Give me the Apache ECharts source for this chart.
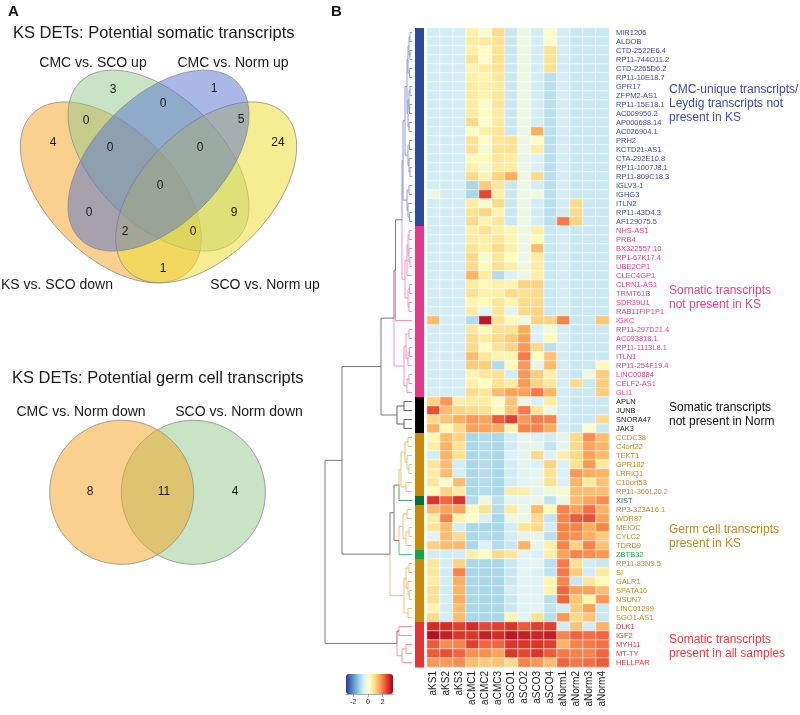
<!DOCTYPE html>
<html>
<head>
<meta charset="utf-8">
<script src="https://cdn.jsdelivr.net/npm/echarts@6/dist/echarts.min.js"></script>
<style>
  html, body { margin: 0; padding: 0; background: #fff; }
  #chart { width: 800px; height: 715px; }
</style>
</head>
<body>
<div id="chart"></div>
<script>
// ---- data ----
const samples = ['aKS1', 'aKS2', 'aKS3', 'aCMC1', 'aCMC2', 'aCMC3', 'aSCO1', 'aSCO2', 'aSCO3', 'aSCO4', 'aNorm1', 'aNorm2', 'aNorm3', 'aNorm4'];

const genes = ['MIR1206', 'ALDOB', 'CTD-2522E6.4', 'RP11-744O11.2', 'CTD-2265D6.2', 'RP11-10E18.7', 'GPR17', 'ZFPM2-AS1', 'RP11-15E18.1', 'AC009950.2', 'AP000688.14', 'AC026904.1', 'PRH2', 'KCTD21-AS1', 'CTA-292E10.8', 'RP11-1007J8.1', 'RP11-809C18.3', 'IGLV3-1', 'IGHG3', 'ITLN2', 'RP11-43D4.3', 'AF129075.5',
  'NHS-AS1', 'PRB4', 'BX322557.10', 'RP1-67K17.4', 'UBE2CP1', 'CLEC4GP1', 'CLRN1-AS1', 'TRMT61B', 'SDR39U1', 'RAB11FIP1P1', 'IGKC', 'RP11-297D21.4', 'AC093818.1', 'RP11-1113L8.1', 'ITLN1', 'RP11-254F19.4', 'LINC00884', 'CELF2-AS1', 'GLI1',
  'APLN', 'JUNB', 'SNORA47', 'JAK3',
  'CCDC38', 'C4orf22', 'TEKT1', 'GPR182', 'LRRIQ1', 'C10orf53', 'RP11-366L20.2', 'XIST', 'RP3-323A16.1', 'WDR87', 'MEIOC', 'CYLC2', 'TDRD9', 'ZBTB32', 'RP11-83N9.5', 'SI', 'GALR1', 'SPATA16', 'NSUN7', 'LINC01299', 'SGO1-AS1',
  'DLK1', 'IGF2', 'MYH11', 'MT-TY', 'HELLPAR'];

// cluster of each gene (C CMC-unique, S somatic not in KS, N not in Norm, G germ cell, X XIST, Z ZBTB32, A all samples)
const geneGroup = 'CCCCCCCCCCCCCCCCCCCCCCSSSSSSSSSSSSSSSSSSSNNNNGGGGGGGXGGGGGZGGGGGGGAAAAA'.split('');

// row z-scores, columns in the order of samples
const expr = [
  [-0.6, -0.6, -0.6, 0.5, 0.0, 0.9, -0.7, -0.2, -0.6, 0.1, -0.6, -0.7, -0.7, -0.7],
  [-0.6, -0.6, -0.6, 0.6, 0.6, 0.8, -0.7, -0.2, -0.6, 0.1, -0.6, -0.7, -0.7, -0.7],
  [-0.6, -0.6, -0.6, 0.5, 0.2, 0.8, -0.7, -0.2, -0.6, 0.8, -0.6, -0.7, -0.7, -0.7],
  [-0.6, -0.6, -0.6, 0.8, 0.1, 0.8, -0.7, -0.2, -0.6, 0.8, -0.6, -0.7, -0.7, -0.7],
  [-0.6, -0.6, -0.6, 0.4, 0.6, 0.8, -0.7, -0.2, -0.6, 0.8, -0.6, -0.7, -0.7, -0.7],
  [-0.6, -0.6, -0.6, 0.5, 0.4, 0.7, -0.7, -0.2, -0.6, -0.9, -0.6, -0.7, -0.7, -0.7],
  [-0.6, -0.6, -0.6, 0.6, 0.5, 0.6, -0.7, -0.2, -0.6, -0.9, -0.6, -0.7, -0.7, -0.7],
  [-0.6, -0.6, -0.6, 0.6, 0.4, 0.7, -0.7, -0.2, -0.6, -0.9, -0.6, -0.7, -0.7, -0.7],
  [-0.6, -0.6, -0.6, 0.6, 0.1, 0.7, -0.7, -0.2, -0.6, -0.9, -0.6, -0.7, -0.7, -0.7],
  [-0.6, -0.6, -0.6, 0.6, 0.2, 0.6, -0.7, -0.2, -0.6, -0.9, -0.6, -0.7, -0.7, -0.7],
  [-0.6, -0.6, -0.6, 0.9, 0.1, 0.6, -0.7, -0.2, -0.6, -0.9, -0.6, -0.7, -0.7, -0.7],
  [-0.6, -0.6, -0.6, 0.1, 0.5, 0.7, -0.7, -0.2, 1.5, -0.9, -0.6, -0.7, -0.7, -0.7],
  [-0.6, -0.6, -0.6, 0.8, 0.1, 0.7, 0.8, -0.2, 0.1, -0.9, -0.6, -0.7, -0.7, -0.7],
  [-0.6, -0.6, -0.6, 0.8, 0.0, 0.8, 0.8, -0.2, 0.6, -0.9, -0.6, -0.7, -0.7, -0.7],
  [-0.6, -0.6, -0.6, 0.3, 0.3, 0.7, 0.6, -0.3, -0.5, -0.9, -0.6, -0.7, -0.7, -0.7],
  [-0.6, -0.6, -0.6, 0.5, 0.0, 0.6, 0.6, -0.2, -0.5, -0.9, -0.6, -0.7, -0.7, -0.7],
  [-0.6, -0.6, -0.6, 0.9, 0.4, 1.0, 1.5, -0.2, 0.9, -0.9, -0.6, -0.7, -0.7, -0.7],
  [-0.6, -0.6, -0.6, -1.1, 1.1, 0.7, -0.7, -0.2, -0.6, -0.9, -0.6, -0.7, -0.7, -0.7],
  [-0.2, -0.6, -0.6, -1.1, 2.5, 0.5, -0.7, -0.2, -0.1, -0.9, -0.6, -0.7, -0.7, -0.7],
  [-0.6, -0.6, -0.6, 0.6, 0.0, 0.9, -0.7, -0.2, -0.6, -0.9, -0.6, 0.9, -0.7, -0.7],
  [-0.6, -0.6, -0.6, 0.8, 1.0, 0.4, -0.7, -0.2, -0.6, -0.9, -0.6, 0.9, -0.7, -0.7],
  [-0.6, -0.6, -0.6, 0.9, 0.4, 0.7, -0.7, -0.2, -0.6, -0.9, 2.0, 1.0, -0.7, -0.7],
  [-0.6, -0.6, -0.6, 0.5, 0.8, 0.5, 0.4, -0.2, 0.5, -0.7, -0.6, -0.7, -0.7, -0.7],
  [-0.6, -0.6, -0.6, 0.6, 0.5, 0.7, 0.4, -0.2, 0.3, -0.7, -0.6, -0.7, -0.7, -0.7],
  [-0.6, -0.6, -0.6, 0.8, 0.5, 0.9, 0.5, -0.2, 1.3, -0.7, -0.6, -0.7, -0.7, -0.7],
  [-0.6, -0.6, -0.6, 0.9, 0.0, 0.7, 0.2, -0.2, 0.6, -0.7, -0.6, -0.7, -0.7, -0.7],
  [-0.6, -0.6, -0.6, 0.9, 0.3, 0.8, 0.5, -0.2, 0.6, -0.7, -0.6, -0.7, -0.7, -0.7],
  [-0.6, -0.6, -0.6, 1.4, 0.6, -1.0, -0.5, -0.2, 0.5, -0.7, -0.6, -0.7, -0.7, -0.7],
  [-0.6, -0.6, -0.6, 0.6, 0.3, 0.5, 0.4, 1.0, 1.0, -0.7, -0.6, -0.7, -0.7, -0.7],
  [-0.6, -0.6, -0.6, 0.8, 0.5, 0.5, 0.9, 0.8, 0.9, -0.7, -0.6, -0.7, -0.7, -0.7],
  [-0.6, -0.6, -0.6, 0.4, 0.3, 0.7, 0.4, 0.9, 0.9, -0.7, -0.6, -0.7, -0.7, -0.7],
  [-0.6, -0.6, -0.6, 0.6, -0.4, 0.7, -0.4, 0.9, 1.0, -0.7, -0.6, -0.7, -0.7, -0.7],
  [1.3, -0.6, -0.6, -1.0, 3.1, 0.8, 0.3, -0.2, 1.0, 1.0, 1.9, -0.7, -0.7, 1.2],
  [-0.6, -0.6, -0.6, 0.7, 0.3, 0.8, 0.8, 1.5, -0.5, -0.1, -0.6, -0.7, -0.7, -0.7],
  [-0.6, -0.6, -0.6, 0.9, 0.6, 0.9, 1.1, 1.6, -0.5, 0.3, -0.6, -0.7, -0.7, -0.7],
  [-0.6, -0.6, -0.6, 0.9, 0.2, 0.8, 1.0, 1.7, 0.9, -0.9, -0.6, -0.7, -0.7, -0.7],
  [-0.6, -0.6, -0.6, 1.3, 0.7, 0.4, 0.4, 2.0, 0.2, 1.2, -0.6, -0.7, -0.7, -0.7],
  [-0.6, -0.6, -0.6, 1.1, 1.1, -1.0, 0.3, 1.7, -0.3, 1.3, -0.6, -0.7, -0.7, 0.3],
  [-0.6, -0.6, -0.6, 0.4, 0.7, 0.8, -0.6, 1.7, 1.1, 0.5, -0.6, -0.7, -0.1, 1.1],
  [-0.6, -0.6, -0.6, 0.5, 0.2, 0.8, 0.6, 1.7, 1.0, 0.7, -0.6, 0.9, -0.7, 1.1],
  [-0.6, -0.6, -0.6, 0.9, 0.7, 1.3, 1.6, 1.6, 2.0, 1.4, -0.6, -0.7, -0.7, 1.1],
  [1.0, 1.7, 0.5, 0.6, 0.6, 0.1, 1.2, -0.2, -0.5, 0.6, -0.6, -0.7, -0.7, -0.7],
  [2.4, 1.3, 1.0, 0.9, 0.8, 0.3, 1.2, 2.0, 0.7, -0.2, -0.6, -0.7, -0.7, -0.7],
  [0.9, 1.2, 1.5, 1.7, 1.6, 2.3, 2.6, 1.7, 2.0, 1.9, -0.6, -0.7, -0.7, 0.9],
  [1.4, 0.3, 0.9, 1.6, 1.6, 1.5, 0.4, 1.9, 1.9, 1.5, -0.6, -0.7, 0.1, -0.7],
  [0.4, 1.3, 1.0, -1.1, -1.0, -1.1, -0.6, -0.3, -0.5, -0.6, -0.3, 0.9, 1.8, 1.3],
  [0.5, 1.4, 0.8, -1.1, -1.0, -1.1, -0.6, -0.3, -0.3, -0.8, -0.3, 0.9, 1.6, 1.4],
  [-0.6, 1.4, 0.8, -1.1, -1.0, -1.1, -0.5, -0.3, 0.9, -0.5, 0.5, 0.9, 1.6, 1.3],
  [0.7, 1.3, -0.6, -1.1, -1.0, -1.1, -0.6, -0.3, -0.5, 1.0, -0.5, 0.8, 1.7, 0.6],
  [0.6, 1.3, -0.6, -1.1, -1.0, -1.1, -0.6, -0.4, -0.3, 0.8, -0.5, 1.7, 1.5, 1.4],
  [0.7, 0.0, 1.3, -1.1, -1.0, -1.1, -0.6, -0.4, -0.3, 0.8, -0.5, 1.4, 0.6, 1.2],
  [0.3, 1.0, 0.6, -1.1, -1.0, -1.1, 0.6, 0.5, -0.4, -0.1, 0.0, 1.3, 1.3, 1.3],
  [2.7, 2.2, 2.7, -1.0, -0.2, -0.9, -0.4, -0.3, -0.2, -0.8, -0.2, 1.3, 1.6, 1.8],
  [1.3, 1.6, 1.6, 0.3, 0.8, -1.0, 0.6, -0.2, 1.3, 0.3, 1.9, 1.6, 2.1, 1.4],
  [0.6, 1.9, 0.4, 0.1, -0.5, -1.1, -0.2, -0.2, 0.9, -0.8, 1.9, 2.3, 2.4, 1.6],
  [0.7, 1.3, -0.6, -1.1, -1.1, -1.1, -0.6, 0.7, 0.9, -0.6, 1.9, 1.9, 1.5, 1.9],
  [-0.4, 1.3, 0.9, -1.1, -1.0, -1.1, -0.6, -0.3, -0.3, -0.9, 1.9, 1.8, 1.5, 1.1],
  [1.0, 1.3, 1.3, -1.1, -0.5, -1.0, -0.7, 1.4, -0.3, 0.5, 1.9, 1.0, 1.9, 1.2],
  [-0.6, -0.6, -0.6, 0.5, 0.2, 0.9, 0.7, -0.4, -0.5, 0.5, 1.6, 1.9, 1.8, 1.7],
  [0.7, -0.6, 1.0, -1.1, -1.1, -1.1, -0.7, -0.4, -0.3, -0.9, 2.0, 0.8, -0.6, -0.7],
  [0.7, -0.6, 1.9, -1.1, -1.1, -1.1, -0.7, -0.4, -0.5, -0.8, 2.0, 1.1, -0.6, 0.6],
  [0.6, -0.6, 1.5, -1.1, -1.1, -1.1, -0.7, -0.4, -0.4, 0.4, 1.9, -0.7, 0.7, 0.3],
  [0.8, -0.6, 1.4, -1.1, -1.1, -1.1, -0.6, -0.4, -0.4, 0.4, 2.2, 1.6, 1.6, 1.3],
  [0.8, -0.6, 1.5, -1.1, -1.1, -1.1, -0.7, -0.4, -0.4, -0.9, 2.2, 1.2, 0.4, 1.7],
  [0.4, -0.6, 1.3, -1.1, -1.1, -1.1, -0.7, -0.4, -0.4, -0.8, -0.6, 1.1, 1.6, -0.7],
  [0.9, -0.6, 1.3, -1.1, -1.1, -1.1, 0.4, -0.4, 0.8, -0.9, 1.7, 0.9, 1.2, -0.7],
  [2.8, 2.8, 2.6, 2.8, 2.5, 2.6, 2.7, 2.3, 2.6, 2.6, -0.6, 1.2, -0.6, 1.4],
  [3.2, 3.0, 2.7, 2.7, 3.0, 2.8, 3.1, 3.0, 2.9, 3.0, 1.9, 2.2, 2.1, 2.2],
  [2.3, 1.8, 1.9, 2.6, 2.2, 2.2, 2.7, 2.7, 2.7, 2.6, 1.4, 1.9, 2.0, 2.1],
  [2.3, 2.4, 2.2, 1.8, 1.8, 1.6, 2.7, 2.5, 2.7, 2.3, 2.0, 1.9, 1.9, 2.2],
  [1.7, 1.7, 1.8, 1.3, 1.1, 1.2, 0.9, 1.9, 1.7, 1.3, 2.2, 2.0, 2.1, 2.3]
];

// row dendrogram: [merge height, left, right]; leaves are row indices
const dendro =
  [87,
    [70,
      [31,
        [18,
          [16.5,
            [10,
              [9,
                [7,
                  [5, [4, [3, [2, 0, 1], [2, 2, 3]], [2.5, 4, 5]], [4, [3, [2, 6, 7], [2.5, 8, 9]], [3, 10, 11]]],
                  [4, [2.5, 12, 13], [3, 14, [2, 15, 16]]]],
                [5, [3, 17, 18], [4, 19, [2.5, 20, 21]]]],
              [7, [5, [4, [3, 22, 23], [3, 24, [2, 25, 26]]], 27], [4, [2.5, 28, 29], [3, 30, 31]]]],
            32],
          [8, [6, [3, 33, 34], [4, [2.5, 35, 36], 37]], [5, [3, 38, 39], 40]]],
        [15, [8, 41, 42], [8, 43, 44]]],
      [22,
        [18,
          [13, [11, [7, [4, 45, 46], [5, 47, [3, 48, 49]]], [6, 50, 51]], 52],
          [13, [9, [5, 53, 54], [6, [3, 55, 56], 57]], 58]],
        [8, [6, [3, 59, 60], [4, 61, [2.5, 62, 63]]], [4, 64, 65]]]],
    [15, [13, 66, 67], [10, [6, 68, 69], 70]]];

const venn4Sets = ['KS vs. SCO down', 'CMC vs. SCO up', 'CMC vs. Norm up', 'SCO vs. Norm up'];
const venn4Counts = [4, 3, 1, 24, 0, 0, 5, 0, 0, 0, 0, 9, 2, 0, 1];
const venn2Sets = ['CMC vs. Norm down', 'SCO vs. Norm down'];
const venn2Counts = [8, 11, 4];

// ---- styles / layout ----
const groupStyle = {
  C: { label: '#3b4cae', strip: '#2d4b9d', branch: '#8191d8' },
  S: { label: '#e63b8f', strip: '#e03a88', branch: '#ef88bd' },
  N: { label: '#1a1a1a', strip: '#000000', branch: '#555555' },
  G: { label: '#c48a1c', strip: '#c98a0b', branch: '#e8bb6a' },
  X: { label: '#16703a', strip: '#0b6a34', branch: '#3a9a60' },
  Z: { label: '#25a548', strip: '#19a04c', branch: '#4cbc6c' },
  A: { label: '#e5383b', strip: '#e33535', branch: '#f08c8c' }
};
const mixedBranch = '#6b6b6b';
const colourCut = 12;   // branches above this height stay grey
const font = '"Liberation Sans", Arial, sans-serif';

const annotations = [
  { text: 'CMC-unique transcripts/\nLeydig transcripts not\npresent in KS', color: '#3b4cae', y: 83 },
  { text: 'Somatic transcripts\nnot present in KS', color: '#e8408f', y: 284 },
  { text: 'Somatic transcripts\nnot present in Norm', color: '#111111', y: 401 },
  { text: 'Germ cell transcripts\npresent in KS', color: '#c08a1e', y: 523 },
  { text: 'Somatic transcripts\npresent in all samples', color: '#e83a35', y: 633 }
];

// venn geometry in panel pixels (drawn in this order: orange, green, yellow, blue)
const venn4Shapes = [
  { cx: 110.8, cy: 192.4, a: 111, b: 63.6, rot: 45, fill: 'rgba(243,161,29,0.5)' },
  { cx: 158.5, cy: 160.6, a: 111, b: 63.6, rot: 45, fill: 'rgba(147,201,137,0.5)' },
  { cx: 206.2, cy: 192.4, a: 111, b: 63.6, rot: -45, fill: 'rgba(239,223,57,0.55)' },
  { cx: 158.5, cy: 160.6, a: 111, b: 63.6, rot: -45, fill: 'rgba(85,113,205,0.5)' }
];
const venn4LabelPos = [[57, 285], [93, 63], [233, 63], [265, 285]];
const venn4CountPos = [[53, 143], [113, 90], [214, 89], [278, 143], [86, 121], [163, 104], [241, 120],
  [110, 148], [200, 148], [160, 186], [89, 213], [234, 213], [125, 232], [193, 232], [163, 269]];
const venn2Shapes = [
  { cx: 193.3, cy: 492.3, a: 72, b: 72, rot: 0, fill: 'rgba(147,201,137,0.5)' },
  { cx: 121.7, cy: 492.3, a: 72, b: 72, rot: 0, fill: 'rgba(243,161,29,0.5)' }
];
const venn2LabelPos = [[81, 412], [239, 412]];
const venn2CountPos = [[90, 492], [164, 492], [235, 492]];

// ---- dendrogram segments ----
const segs = [];
function walk(node) {
  if (typeof node === 'number') return { h: 0, y: node + 0.5, grp: geneGroup[node] };
  const [h, l, r] = node;
  const a = walk(l), b = walk(r);
  const y = (a.y + b.y) / 2;
  [a, b].forEach(c => {
    const coloured = c.grp && c.h <= colourCut;
    segs.push({
      coords: [[h, y], [h, c.y], [c.h, c.y]],
      lineStyle: { color: coloured ? groupStyle[c.grp].branch : mixedBranch }
    });
  });
  return { h, y, grp: a.grp === b.grp ? a.grp : null };
}
walk(dendro);

const heatData = [];
expr.forEach((row, r) => row.forEach((v, c) => heatData.push([c, r, v])));

function ellipsePoints(s, api) {
  const pts = [];
  const t0 = s.rot * Math.PI / 180;
  for (let k = 0; k < 160; k++) {
    const t = k / 160 * Math.PI * 2;
    const ex = s.a * Math.cos(t), ey = s.b * Math.sin(t);
    pts.push(api.coord([s.cx + ex * Math.cos(t0) - ey * Math.sin(t0), s.cy + ex * Math.sin(t0) + ey * Math.cos(t0)]));
  }
  return pts;
}

function shapeSeries(shapes) {
  return {
    type: 'custom', xAxisIndex: 0, yAxisIndex: 0, silent: true,
    data: shapes.map(s => [s.cx, s.cy]),
    renderItem: (params, api) => ({
      type: 'polygon',
      shape: { points: ellipsePoints(shapes[params.dataIndex], api) },
      style: { fill: shapes[params.dataIndex].fill, stroke: '#8a8a8a', lineWidth: 0.8 }
    })
  };
}

function textSeries(pos, texts, size) {
  return {
    type: 'custom', xAxisIndex: 0, yAxisIndex: 0, silent: true,
    data: texts.map((t, i) => [pos[i][0], pos[i][1], t]),
    renderItem: (params, api) => {
      const p = api.coord([api.value(0), api.value(1)]);
      return {
        type: 'text', x: p[0], y: p[1],
        style: { text: String(texts[params.dataIndex]), textAlign: 'center', textVerticalAlign: 'middle', font: size + 'px ' + font, fill: '#1a1a1a' }
      };
    }
  };
}

const chart = echarts.init(document.getElementById('chart'), null, { renderer: 'canvas' });

const hiddenAxis = { show: false };

chart.setOption({
  animation: false,
  backgroundColor: '#fff',
  textStyle: { fontFamily: font },
  grid: [
    { left: 0, top: 0, width: 330, height: 715, outerBoundsMode: 'none' },
    { left: 325, top: 28, width: 87, height: 639, outerBoundsMode: 'none' },
    { left: 415, top: 28, width: 9, height: 639, outerBoundsMode: 'none' },
    { left: 427, top: 28, width: 182, height: 639, outerBoundsMode: 'none' },
    { left: 346, top: 674, width: 47, height: 20, outerBoundsMode: 'none' }
  ],
  xAxis: [
    Object.assign({ type: 'value', gridIndex: 0, min: 0, max: 330 }, hiddenAxis),
    Object.assign({ type: 'value', gridIndex: 1, min: 0, max: 87, inverse: true }, hiddenAxis),
    Object.assign({ type: 'value', gridIndex: 2, min: 0, max: 1 }, hiddenAxis),
    {
      type: 'category', gridIndex: 3, data: samples, position: 'bottom',
      axisLine: { show: false }, axisTick: { show: false }, splitLine: { show: false },
      axisLabel: { rotate: 90, fontSize: 10, color: '#222', margin: 4, interval: 0 }
    },
    {
      type: 'value', gridIndex: 4, min: -3, max: 3.4, position: 'bottom',
      splitLine: { show: false },
      axisLine: { show: true, lineStyle: { color: '#777', width: 0.6 } },
      axisTick: { show: true, length: 3, customValues: [-2, 0, 2], lineStyle: { color: '#777', width: 0.6 } },
      axisLabel: { customValues: [-2, 0, 2], fontSize: 7, color: '#333', margin: 5 }
    }
  ],
  yAxis: [
    Object.assign({ type: 'value', gridIndex: 0, min: 0, max: 715, inverse: true }, hiddenAxis),
    Object.assign({ type: 'value', gridIndex: 1, min: 0, max: genes.length, inverse: true }, hiddenAxis),
    Object.assign({ type: 'value', gridIndex: 2, min: 0, max: genes.length, inverse: true }, hiddenAxis),
    {
      type: 'category', gridIndex: 3, data: genes, inverse: true, position: 'right',
      axisLine: { show: false }, axisTick: { show: false }, splitLine: { show: false },
      axisLabel: {
        fontSize: 7.5, margin: 7, interval: 0,
        color: (value) => groupStyle[geneGroup[genes.indexOf(value)]].label
      }
    },
    Object.assign({ type: 'value', gridIndex: 4, min: 0, max: 1 }, hiddenAxis)
  ],
  visualMap: {
    type: 'continuous', min: -3, max: 3.4, seriesIndex: 2, dimension: 2,
    orient: 'horizontal', left: 346, top: 674, itemWidth: 20, itemHeight: 47,
    padding: 0, calculable: false, text: null, showLabel: false, hoverLink: false,
    inRange: { color: ['#313695', '#4575b4', '#74add1', '#abd9e9', '#e0f3f8', '#ffffbf', '#fee090', '#fdae61', '#f46d43', '#d73027', '#a50026'] }
  },
  graphic: [
    { type: 'text', left: 8, top: 4, style: { text: 'A', font: 'bold 15px ' + font, fill: '#111' } },
    { type: 'text', left: 331, top: 4, style: { text: 'B', font: 'bold 15px ' + font, fill: '#111' } },
    { type: 'text', x: 13, y: 33, style: { text: 'KS DETs: Potential somatic transcripts', font: '16.5px ' + font, fill: '#1a1a1a', textVerticalAlign: 'middle' } },
    { type: 'text', x: 12, y: 378, style: { text: 'KS DETs: Potential germ cell transcripts', font: '16.5px ' + font, fill: '#1a1a1a', textVerticalAlign: 'middle' } }
  ].concat(annotations.map(a => ({
    type: 'text', x: 669, y: a.y,
    style: { text: a.text, font: '12px ' + font, lineHeight: 14, fill: a.color }
  }))),
  series: [
    // 0: dendrogram
    {
      type: 'lines', coordinateSystem: 'cartesian2d', xAxisIndex: 1, yAxisIndex: 1,
      polyline: true, silent: true, data: segs,
      lineStyle: { width: 0.9, opacity: 1 }
    },
    // 1: cluster colour strip
    {
      type: 'custom', xAxisIndex: 2, yAxisIndex: 2, silent: true,
      data: genes.map((g, i) => [0.5, i + 0.5]),
      renderItem: (params, api) => {
        const i = params.dataIndex;
        const p0 = api.coord([0, i]);
        const p1 = api.coord([1, i + 1]);
        return {
          type: 'rect',
          shape: { x: p0[0], y: p0[1], width: p1[0] - p0[0], height: p1[1] - p0[1] + 0.5 },
          style: { fill: groupStyle[geneGroup[i]].strip }
        };
      }
    },
    // 2: heatmap
    {
      type: 'heatmap', xAxisIndex: 3, yAxisIndex: 3, data: heatData, silent: true,
      itemStyle: { borderColor: 'rgba(255,255,255,0.85)', borderWidth: 0.7 }
    },
    // venn diagrams
    shapeSeries(venn4Shapes),
    textSeries(venn4CountPos, venn4Counts, 12),
    textSeries(venn4LabelPos, venn4Sets, 14),
    shapeSeries(venn2Shapes),
    textSeries(venn2CountPos, venn2Counts, 12),
    textSeries(venn2LabelPos, venn2Sets, 14)
  ]
});
</script>
</body>
</html>
